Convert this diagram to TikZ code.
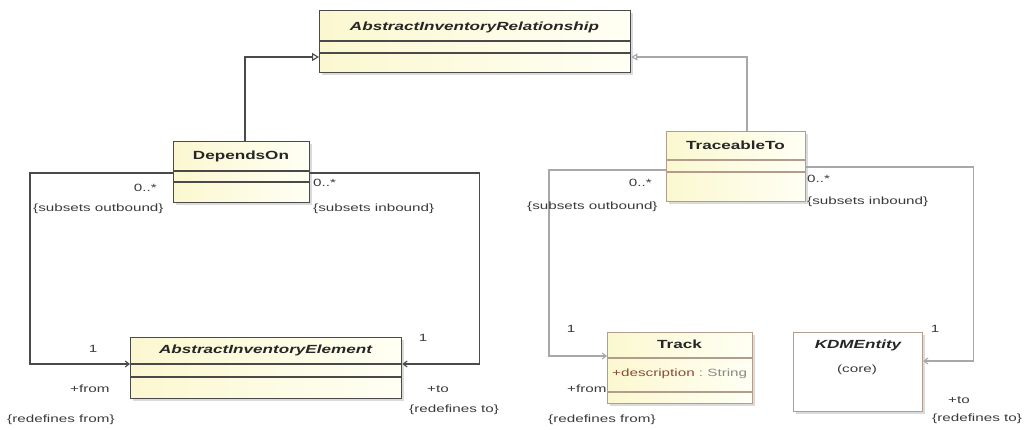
\documentclass[tikz,border=0pt]{standalone}
\usepackage{fontspec}
\setmainfont{Liberation Sans}[FakeStretch=1.45]
\usetikzlibrary{arrows.meta,calc,shadows}
\definecolor{dk}{HTML}{4A4A4A}
\definecolor{br}{HTML}{B49C8C}
\definecolor{lg}{HTML}{A8A8A8}
\definecolor{fillL}{RGB}{251,248,208}
\definecolor{fillR}{RGB}{255,255,244}
\definecolor{lb}{HTML}{3A3A3A}
\definecolor{attr}{HTML}{8A4A3A}
\definecolor{typ}{HTML}{8A8A8A}
\tikzset{
  cls/.style={draw=dk, line width=1.3pt, rectangle, anchor=north west, inner sep=0pt,
    left color=fillL, right color=fillR,
    drop shadow={shadow xshift=2pt, shadow yshift=-2pt, fill=black!28}},
  clsl/.style={cls, draw=br, line width=1.1pt},
  dv/.style={draw=dk, line width=1.1pt},
  dvl/.style={draw=br, line width=1.1pt},
  nm/.style={font=\fontsize{11.8}{13}\selectfont\bfseries, text=black!85, inner sep=0pt},
  lbl/.style={font=\fontsize{10.5}{12}\selectfont, text=lb, inner sep=0pt},
  gen/.style={draw=dk, line width=1.1pt, -{Triangle[open, length=7pt, width=8pt, fill=white]}},
  genl/.style={draw=lg, line width=1.1pt, -{Triangle[open, length=6pt, width=7pt, fill=white]}},
  asc/.style={draw=dk, line width=1.1pt, -{Straight Barb[length=4pt, width=6pt]}},
  ascl/.style={draw=lg, line width=1.1pt, -{Straight Barb[length=4pt, width=6pt]}}
}
\begin{document}
\begin{tikzpicture}[x=1pt, y=-1pt]
\useasboundingbox (0,0) rectangle (1032,430);

% ---- classes ----
\node[cls, minimum width=311pt, minimum height=62pt] (air) at (319,10) {};
\node[nm] (airN) at (474.5,27) {\itshape AbstractInventoryRelationship};
\draw[dv] (air.west |- 0,41) -- (air.east |- 0,41);
\draw[dv] (air.west |- 0,53) -- (air.east |- 0,53);

\node[cls, minimum width=136pt, minimum height=61pt] (dep) at (173,141) {};
\node[nm] (depN) at (241,156) {DependsOn};
\draw[dv] (dep.west |- 0,171) -- (dep.east |- 0,171);
\draw[dv] (dep.west |- 0,182) -- (dep.east |- 0,182);

\node[cls, minimum width=271pt, minimum height=61pt] (aie) at (130,337) {};
\node[nm] (aieN) at (265.5,350) {\itshape AbstractInventoryElement};
\draw[dv] (aie.west |- 0,364) -- (aie.east |- 0,364);
\draw[dv] (aie.west |- 0,377) -- (aie.east |- 0,377);

\node[clsl, minimum width=139pt, minimum height=70pt] (tt) at (666,131) {};
\node[nm] (ttN) at (735.5,145) {TraceableTo};
\draw[dvl] (tt.west |- 0,160) -- (tt.east |- 0,160);
\draw[dvl] (tt.west |- 0,172) -- (tt.east |- 0,172);

\node[clsl, minimum width=145pt, minimum height=71pt] (trk) at (607,332) {};
\node[nm] (trkN) at (679.5,344) {Track};
\draw[dvl] (trk.west |- 0,358) -- (trk.east |- 0,358);
\draw[dvl] (trk.west |- 0,392) -- (trk.east |- 0,392);
\node[lbl, anchor=west] (trkA) at (612,374) {\textcolor{attr}{+description}\textcolor{typ}{\ :\ String}};

\node[clsl, minimum width=129pt, minimum height=79pt, left color=white, right color=white] (kdm) at (793,332) {};
\node[nm] (kdmN) at (858,345) {\itshape KDMEntity};
\node[lbl] (kdmC) at (857,370) {(core)};

% ---- generalizations ----
\draw[gen] ($(dep.north west)+(72,0)$) |- ($(air.north west)+(0,47)$);
\draw[genl] ($(tt.north west)+(81,0)$) |- ($(air.north east)+(0,47)$);

% ---- associations ----
\draw[asc] ($(dep.north west)+(0,32)$) -- ++(-143,0) |- ($(aie.north west)+(0,27)$);
\draw[asc] ($(dep.north east)+(0,32)$) -- ++(169,0) |- ($(aie.north east)+(0,27)$);
\draw[ascl] ($(tt.north west)+(0,39)$) -- ++(-117,0) |- ($(trk.north west)+(0,24)$);
\draw[ascl] ($(tt.north east)+(0,36)$) -- ++(167,0) |- ($(kdm.north east)+(0,29)$);

% ---- labels: DependsOn ----
\node[lbl, anchor=east] (d1) at (157,188) {0..*};
\node[lbl, anchor=west] (d2) at (33,209) {\{subsets outbound\}};
\node[lbl, anchor=west] (d3) at (313,183) {0..*};
\node[lbl, anchor=west] (d4) at (313,209) {\{subsets inbound\}};
\node[lbl] (d5) at (93,349) {1};
\node[lbl, anchor=west] (d6) at (70,389) {+from};
\node[lbl, anchor=west] (d7) at (7,420) {\{redefines from\}};
\node[lbl] (d8) at (423,338) {1};
\node[lbl, anchor=west] (d9) at (427,389) {+to};
\node[lbl, anchor=west] (d10) at (409,410) {\{redefines to\}};

% ---- labels: TraceableTo ----
\node[lbl, anchor=east] (t1) at (652,183) {0..*};
\node[lbl, anchor=west] (t2) at (527,207) {\{subsets outbound\}};
\node[lbl, anchor=west] (t3) at (807,179) {0..*};
\node[lbl, anchor=west] (t4) at (807,202) {\{subsets inbound\}};
\node[lbl] (t5) at (571,329) {1};
\node[lbl, anchor=west] (t6) at (567,389) {+from};
\node[lbl, anchor=west] (t7) at (548,420) {\{redefines from\}};
\node[lbl] (t8) at (935,329) {1};
\node[lbl, anchor=west] (t9) at (948,400) {+to};
\node[lbl, anchor=west] (t10) at (932,419) {\{redefines to\}};
\end{tikzpicture}
\end{document}
